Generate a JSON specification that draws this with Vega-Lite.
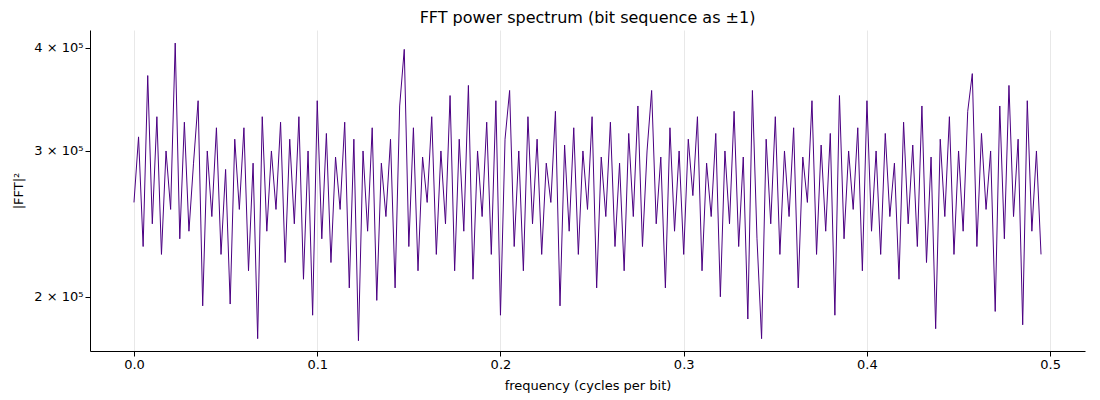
{
  "$schema": "https://vega.github.io/schema/vega-lite/v6.json",
  "width": 1100,
  "height": 400,
  "autosize": {"type": "fit", "contains": "padding"},
  "padding": {"left": 12, "right": 15, "top": 10, "bottom": 8},
  "background": "white",
  "config": {
    "font": "DejaVu Sans",
    "view": {"stroke": null}
  },
  "title": {"text": "FFT power spectrum (bit sequence as ±1)", "fontSize": 16, "fontWeight": "normal", "font": "DejaVu Sans", "color": "black"},
  "data": {"values": [
    {"f":0.0,"p":260000},{"f":0.0025,"p":312000},{"f":0.005,"p":230000},{"f":0.0075,"p":370000},{"f":0.01,"p":245000},
    {"f":0.0125,"p":330000},{"f":0.015,"p":225000},{"f":0.0175,"p":300000},{"f":0.02,"p":255000},{"f":0.0225,"p":405000},
    {"f":0.025,"p":235000},{"f":0.0275,"p":325000},{"f":0.03,"p":240000},{"f":0.0325,"p":290000},{"f":0.035,"p":345000},
    {"f":0.0375,"p":195000},{"f":0.04,"p":300000},{"f":0.0425,"p":250000},{"f":0.045,"p":320000},{"f":0.0475,"p":225000},
    {"f":0.05,"p":285000},{"f":0.0525,"p":196000},{"f":0.055,"p":310000},{"f":0.0575,"p":255000},{"f":0.06,"p":320000},
    {"f":0.0625,"p":215000},{"f":0.065,"p":290000},{"f":0.0675,"p":178000},{"f":0.07,"p":330000},{"f":0.0725,"p":240000},
    {"f":0.075,"p":300000},{"f":0.0775,"p":255000},{"f":0.08,"p":325000},{"f":0.0825,"p":220000},{"f":0.085,"p":310000},
    {"f":0.0875,"p":245000},{"f":0.09,"p":330000},{"f":0.0925,"p":210000},{"f":0.095,"p":300000},{"f":0.0975,"p":190000},
    {"f":0.1,"p":345000},{"f":0.1025,"p":235000},{"f":0.105,"p":315000},{"f":0.1075,"p":220000},{"f":0.11,"p":295000},
    {"f":0.1125,"p":255000},{"f":0.115,"p":325000},{"f":0.1175,"p":205000},{"f":0.12,"p":310000},{"f":0.1225,"p":177000},
    {"f":0.125,"p":300000},{"f":0.1275,"p":240000},{"f":0.13,"p":320000},{"f":0.1325,"p":198000},{"f":0.135,"p":290000},
    {"f":0.1375,"p":250000},{"f":0.14,"p":310000},{"f":0.1425,"p":205000},{"f":0.145,"p":340000},{"f":0.1475,"p":398000},
    {"f":0.15,"p":230000},{"f":0.1525,"p":320000},{"f":0.155,"p":215000},{"f":0.1575,"p":295000},{"f":0.16,"p":260000},
    {"f":0.1625,"p":330000},{"f":0.165,"p":225000},{"f":0.1675,"p":300000},{"f":0.17,"p":245000},{"f":0.1725,"p":350000},
    {"f":0.175,"p":215000},{"f":0.1775,"p":310000},{"f":0.18,"p":240000},{"f":0.1825,"p":360000},{"f":0.185,"p":210000},
    {"f":0.1875,"p":300000},{"f":0.19,"p":250000},{"f":0.1925,"p":325000},{"f":0.195,"p":225000},{"f":0.1975,"p":345000},
    {"f":0.2,"p":190000},{"f":0.2025,"p":310000},{"f":0.205,"p":355000},{"f":0.2075,"p":230000},{"f":0.21,"p":300000},
    {"f":0.2125,"p":215000},{"f":0.215,"p":330000},{"f":0.2175,"p":245000},{"f":0.22,"p":310000},{"f":0.2225,"p":225000},
    {"f":0.225,"p":290000},{"f":0.2275,"p":260000},{"f":0.23,"p":335000},{"f":0.2325,"p":195000},{"f":0.235,"p":305000},
    {"f":0.2375,"p":240000},{"f":0.24,"p":320000},{"f":0.2425,"p":225000},{"f":0.245,"p":300000},{"f":0.2475,"p":255000},
    {"f":0.25,"p":330000},{"f":0.2525,"p":205000},{"f":0.255,"p":295000},{"f":0.2575,"p":250000},{"f":0.26,"p":325000},
    {"f":0.2625,"p":230000},{"f":0.265,"p":290000},{"f":0.2675,"p":215000},{"f":0.27,"p":315000},{"f":0.2725,"p":250000},
    {"f":0.275,"p":340000},{"f":0.2775,"p":230000},{"f":0.28,"p":300000},{"f":0.2825,"p":355000},{"f":0.285,"p":245000},
    {"f":0.2875,"p":295000},{"f":0.29,"p":205000},{"f":0.2925,"p":320000},{"f":0.295,"p":240000},{"f":0.2975,"p":300000},
    {"f":0.3,"p":225000},{"f":0.3025,"p":310000},{"f":0.305,"p":265000},{"f":0.3075,"p":330000},{"f":0.31,"p":215000},
    {"f":0.3125,"p":290000},{"f":0.315,"p":250000},{"f":0.3175,"p":315000},{"f":0.32,"p":200000},{"f":0.3225,"p":300000},
    {"f":0.325,"p":245000},{"f":0.3275,"p":335000},{"f":0.33,"p":230000},{"f":0.3325,"p":295000},{"f":0.335,"p":188000},
    {"f":0.3375,"p":355000},{"f":0.34,"p":235000},{"f":0.3425,"p":178000},{"f":0.345,"p":310000},{"f":0.3475,"p":245000},
    {"f":0.35,"p":330000},{"f":0.3525,"p":225000},{"f":0.355,"p":300000},{"f":0.3575,"p":250000},{"f":0.36,"p":320000},
    {"f":0.3625,"p":205000},{"f":0.365,"p":295000},{"f":0.3675,"p":260000},{"f":0.37,"p":345000},{"f":0.3725,"p":225000},
    {"f":0.375,"p":305000},{"f":0.3775,"p":240000},{"f":0.38,"p":315000},{"f":0.3825,"p":190000},{"f":0.385,"p":350000},
    {"f":0.3875,"p":235000},{"f":0.39,"p":300000},{"f":0.3925,"p":255000},{"f":0.395,"p":320000},{"f":0.3975,"p":215000},
    {"f":0.4,"p":345000},{"f":0.4025,"p":240000},{"f":0.405,"p":300000},{"f":0.4075,"p":225000},{"f":0.41,"p":315000},
    {"f":0.4125,"p":250000},{"f":0.415,"p":290000},{"f":0.4175,"p":210000},{"f":0.42,"p":325000},{"f":0.4225,"p":245000},
    {"f":0.425,"p":305000},{"f":0.4275,"p":230000},{"f":0.43,"p":340000},{"f":0.4325,"p":220000},{"f":0.435,"p":295000},
    {"f":0.4375,"p":183000},{"f":0.44,"p":310000},{"f":0.4425,"p":250000},{"f":0.445,"p":330000},{"f":0.4475,"p":225000},
    {"f":0.45,"p":300000},{"f":0.4525,"p":240000},{"f":0.455,"p":335000},{"f":0.4575,"p":372000},{"f":0.46,"p":230000},
    {"f":0.4625,"p":315000},{"f":0.465,"p":255000},{"f":0.4675,"p":300000},{"f":0.47,"p":192000},{"f":0.4725,"p":340000},
    {"f":0.475,"p":235000},{"f":0.4775,"p":360000},{"f":0.48,"p":250000},{"f":0.4825,"p":310000},{"f":0.485,"p":185000},
    {"f":0.4875,"p":345000},{"f":0.49,"p":240000},{"f":0.4925,"p":300000},{"f":0.495,"p":225000}
  ]},
  "mark": {"type": "line", "color": "#4b0082", "strokeWidth": 1},
  "encoding": {
    "x": {"field": "f", "type": "quantitative", "title": "frequency (cycles per bit)",
      "scale": {"domain": [-0.024, 0.519], "nice": false, "zero": false},
      "axis": {"values": [0, 0.1, 0.2, 0.3, 0.4, 0.5], "format": ".1f", "grid": true, "gridColor": "#e8e8e8",
        "labelFontSize": 13, "titleFontSize": 13, "titleFontWeight": "normal", "labelColor": "black", "titleColor": "black",
        "domainColor": "black", "tickColor": "black", "titlePadding": 8}},
    "y": {"field": "p", "type": "quantitative", "title": "|FFT|²",
      "scale": {"type": "log", "domain": [172000, 420000], "nice": false},
      "axis": {"values": [200000, 300000, 400000], "grid": false,
        "labelFontSize": 13, "titleFontSize": 13, "titleFontWeight": "normal", "labelColor": "black", "titleColor": "black",
        "domainColor": "black", "tickColor": "black", "titlePadding": 8,
        "labelExpr": "datum.value == 200000 ? '2 × 10⁵' : datum.value == 300000 ? '3 × 10⁵' : '4 × 10⁵'"}}
  }
}
